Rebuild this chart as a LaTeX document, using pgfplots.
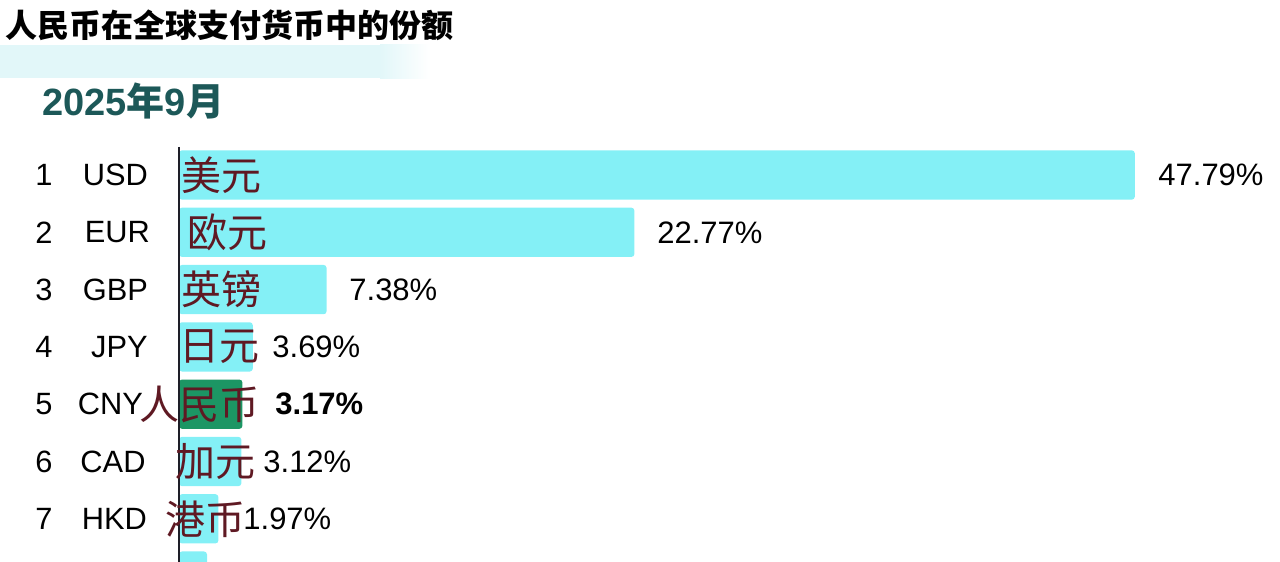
\documentclass[border=0pt]{standalone}
\usepackage{pgfplots}
\pgfplotsset{compat=1.18}
\usepackage{fontspec}
\setmainfont{Liberation Sans}
\newfontfamily\cjk{Noto Sans CJK SC}

\definecolor{barcyan}{RGB}{132,240,246}
\definecolor{cnygreen}{RGB}{28,150,100}
\definecolor{bandcyan}{RGB}{226,247,249}
\definecolor{datecol}{RGB}{28,88,88}
\definecolor{namecol}{RGB}{95,25,35}
\definecolor{axiscol}{RGB}{30,30,40}

\tikzset{
  code/.style={font=\fontsize{15.4}{15.4}\selectfont, inner sep=0pt},
  cname/.style={anchor=west, font=\cjk\fontsize{20}{20}\selectfont, text=namecol, inner sep=0pt},
  pct/.style={anchor=west, font=\fontsize{15.5}{15.5}\selectfont, inner sep=0pt},
}

\begin{document}
\begin{tikzpicture}
\begin{axis}[
scale only axis,
width=640pt, height=281pt,
xmin=-8.95, xmax=55.05,
ymin=-2.054, ymax=7.754,
y dir=reverse,
hide axis,
xbar, bar shift=0pt, bar width=0.86,
clip=true,
]
% pale band under the title
\fill[bandcyan] (axis cs:-8.95,-1.27) rectangle (axis cs:10.05,-0.69);
\shade[left color=bandcyan, right color=white] (axis cs:10.05,-1.27) rectangle (axis cs:12.55,-0.69);

\addplot[fill=barcyan, draw=none, rounded corners=1.5pt] coordinates {
    (47.79,1) (22.77,2) (7.38,3) (3.69,4) (3.12,6) (1.97,7) (1.4,8)
};
\addplot[fill=cnygreen, draw=none, rounded corners=1.5pt] coordinates {(3.17,5)};

\draw[axiscol, line width=1pt] (axis cs:0,0.511) -- (axis cs:0,7.754);

% title and date
\node[anchor=west, font=\cjk\bfseries\fontsize{16}{16}\selectfont, inner sep=0pt]
    at (axis cs:-8.7,-1.618) {人民币在全球支付货币中的份额};
\node[anchor=west, font=\bfseries\fontsize{19}{19}\selectfont, text=datecol, inner sep=0pt]
    at (axis cs:-6.85,-0.291) {2025{\cjk\bfseries 年}9{\cjk\bfseries 月}};

% ranks and codes
\node[code] at (axis cs:-6.75,1) {1}; \node[code] at (axis cs:-3.18,1) {USD};
\node[code] at (axis cs:-6.75,2) {2}; \node[code] at (axis cs:-3.08,2) {EUR};
\node[code] at (axis cs:-6.75,3) {3}; \node[code] at (axis cs:-3.18,3) {GBP};
\node[code] at (axis cs:-6.75,4) {4}; \node[code] at (axis cs:-2.98,4) {JPY};
\node[code] at (axis cs:-6.75,5) {5}; \node[code] at (axis cs:-3.43,5) {CNY};
\node[code] at (axis cs:-6.75,6) {6}; \node[code] at (axis cs:-3.3,6) {CAD};
\node[code] at (axis cs:-6.75,7) {7}; \node[code] at (axis cs:-3.23,7) {HKD};

% Chinese names
\node[cname] at (axis cs:0.1,1) {美元};
\node[cname] at (axis cs:0.4,2) {欧元};
\node[cname] at (axis cs:0.1,3) {英镑};
\node[cname] at (axis cs:0,4) {日元};
\node[cname] at (axis cs:-2.0,5) {人民币};
\node[cname] at (axis cs:-0.2,6) {加元};
\node[cname] at (axis cs:-0.7,7) {港币};

% percentages
\node[pct] at (axis cs:48.95,1) {47.79\%};
\node[pct] at (axis cs:23.9,2) {22.77\%};
\node[pct] at (axis cs:8.5,3) {7.38\%};
\node[pct] at (axis cs:4.65,4) {3.69\%};
\node[pct, font=\bfseries\fontsize{15.5}{15.5}\selectfont] at (axis cs:4.8,5) {3.17\%};
\node[pct] at (axis cs:4.2,6) {3.12\%};
\node[pct] at (axis cs:3.2,7) {1.97\%};
\end{axis}
\pgfresetboundingbox
\path (0,0) rectangle (640pt,281pt);
\end{tikzpicture}
\end{document}
